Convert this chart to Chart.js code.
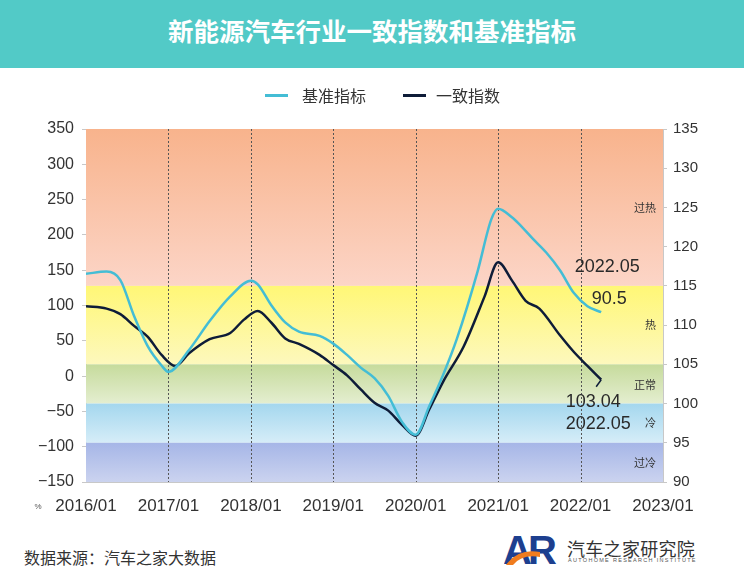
<!DOCTYPE html>
<html>
<head>
<meta charset="utf-8">
<script src="https://cdn.jsdelivr.net/npm/chart.js@4.4.0/dist/chart.umd.min.js"></script>
<style>
    body { margin: 0; width: 744px; height: 580px; background: #fff; position: relative; overflow: hidden; font-family: "Liberation Sans", "Noto Sans CJK SC", sans-serif; }
    .title_bar { position: absolute; left: 0; top: 0; width: 744px; height: 68px; background: #52cac7; color: #fff; font: bold 25.5px "Noto Sans CJK SC", sans-serif; text-align: center; line-height: 60px; }
    .chart_box { position: absolute; left: 0; top: 68px; width: 744px; height: 457px; }
    .source { position: absolute; left: 24px; top: 545px; font: 16px "Noto Sans CJK SC", sans-serif; color: #333; }
    .logo { position: absolute; left: 504px; top: 532px; }
    .logo_name { position: absolute; left: 567px; top: 535px; font: 18px "Noto Sans CJK SC", sans-serif; color: #333; letter-spacing: 0.3px; }
    .logo_sub { position: absolute; left: 568px; top: 557px; font: 5.5px "Liberation Sans", sans-serif; color: #555; letter-spacing: 1.3px; white-space: nowrap; }
</style>
</head>
<body>
<div class="title_bar">新能源汽车行业一致指数和基准指标</div>
<div class="chart_box"><canvas id="indexChart"></canvas></div>
<div class="source">数据来源：汽车之家大数据</div>
<svg class="logo" width="62" height="34" viewBox="0 0 62 34">
    <text x="-1" y="32" font-family="Liberation Sans" font-weight="bold" font-size="40" fill="#1d3f8f" letter-spacing="-4">AR</text>
    <path d="M2 33 Q14 16 36 20 L36 25 Q18 22 9 33 Z" fill="#f07c1e"/>
</svg>
<div class="logo_name">汽车之家研究院</div>
<div class="logo_sub">AUTOHOME RESEARCH INSTITUTE</div>

<script>
// month index, 0 = 2016/01
const benchMonths = [0, 3, 5, 7, 9, 11, 12, 15, 18, 21, 24, 25, 27, 29, 31, 34, 36, 38, 40, 42, 44, 46, 48, 50, 52, 54, 57, 59, 60, 62, 63, 65, 67, 69, 71, 73, 75];
const benchValues = [145, 148, 136, 85, 42, 15, 6, 37, 78, 113, 135, 130, 100, 76, 63, 57, 46, 30, 12, -3, -28, -65, -83, -42, 2, 53, 148, 222, 237, 225, 216, 195, 175, 150, 118, 99, 90.5];

const coinMonths = [0, 3, 5, 7, 9, 11, 13, 15, 18, 21, 23, 25, 27, 29, 31, 34, 36, 38, 40, 42, 44, 46, 48, 50, 52, 55, 58, 60, 62, 64, 66, 69, 71, 73, 75];
const coinValues = [112.4, 112.1, 111.4, 109.9, 108.5, 106.2, 104.8, 106.4, 108.2, 109.0, 110.7, 111.8, 110.3, 108.3, 107.6, 106.2, 104.9, 103.6, 101.8, 100.1, 99.1, 97.3, 95.9, 99.3, 102.8, 107.3, 113.6, 118.0, 115.7, 113.1, 112.1, 108.7, 106.6, 104.8, 103.04];

const seriesNames = ['基准指标', '一致指数'];
const seriesColors = ['#44bdd5', '#0e1c38'];

const yearTicks = [0, 12, 24, 36, 48, 60, 72, 84];
const yearLabels = ['2016/01', '2017/01', '2018/01', '2019/01', '2020/01', '2021/01', '2022/01', '2023/01'];

// zones on the right axis
const zoneEdges = [135, 115, 105, 100, 95, 90];
const zoneColors = [
    ['#f8b38c', '#fcd5c7'],
    ['#fff776', '#fdf8bd'],
    ['#c6db9c', '#e4eed0'],
    ['#a4d7ee', '#d6edf8'],
    ['#a6b6e7', '#cbd3ef'],
];
const zoneNames = ['过热', '热', '正常', '冷', '过冷'];
const zoneLabelValues = [125, 110, 102.4, 97.6, 92.4];

const endBench = { date: '2022.05', value: '90.5' };
const endCoin = { date: '2022.05', value: '103.04' };

const NUM_FONT = '"Liberation Sans", Arial, sans-serif';
const CJK_FONT = '"Noto Sans CJK SC", sans-serif';

function toPoints(months, values) {
    return months.map((m, i) => ({ x: m, y: values[i] }));
}

const zonePlugin = {
    id: 'zones',
    beforeDatasetsDraw(chart) {
        const { ctx, chartArea } = chart;
        const yR = chart.scales.yRight;
        ctx.save();
        for (let i = 0; i < zoneColors.length; i++) {
            const top = yR.getPixelForValue(zoneEdges[i]);
            const bottom = yR.getPixelForValue(zoneEdges[i + 1]);
            const grad = ctx.createLinearGradient(0, top, 0, bottom);
            grad.addColorStop(0, zoneColors[i][0]);
            grad.addColorStop(1, zoneColors[i][1]);
            ctx.fillStyle = grad;
            ctx.fillRect(chartArea.left, top, chartArea.right - chartArea.left, bottom - top);
        }
        // year separators
        ctx.strokeStyle = '#555';
        ctx.lineWidth = 1;
        ctx.setLineDash([2, 2]);
        const x = chart.scales.x;
        yearTicks.slice(1, -1).forEach(m => {
            const px = Math.round(x.getPixelForValue(m)) + 0.5;
            ctx.beginPath();
            ctx.moveTo(px, chartArea.top);
            ctx.lineTo(px, chartArea.bottom);
            ctx.stroke();
        });
        ctx.setLineDash([]);
        ctx.fillStyle = '#333';
        ctx.font = '11px ' + CJK_FONT;
        ctx.textAlign = 'right';
        ctx.textBaseline = 'middle';
        zoneNames.forEach((name, i) => {
            ctx.fillText(name, chartArea.right - 7, yR.getPixelForValue(zoneLabelValues[i]));
        });
        ctx.restore();
    },
    afterDatasetsDraw(chart) {
        const { ctx } = chart;
        const benchLast = chart.getDatasetMeta(0).data.at(-1);
        const coinLast = chart.getDatasetMeta(1).data.at(-1);
        ctx.save();
        ctx.fillStyle = '#2a2a2a';
        ctx.font = '18px ' + NUM_FONT;
        ctx.textAlign = 'center';
        ctx.textBaseline = 'middle';
        ctx.fillText(endBench.date, benchLast.x + 6, benchLast.y - 45);
        ctx.fillText(endBench.value, benchLast.x + 8, benchLast.y - 13);
        ctx.fillText(endCoin.value, coinLast.x - 8, coinLast.y + 22);
        ctx.fillText(endCoin.date, coinLast.x - 3, coinLast.y + 44);
        ctx.strokeStyle = seriesColors[1];
        ctx.lineWidth = 1.5;
        ctx.beginPath();
        ctx.moveTo(coinLast.x, coinLast.y);
        ctx.lineTo(coinLast.x - 5, coinLast.y + 7);
        ctx.stroke();
        ctx.restore();
    },
    afterDraw(chart) {
        const { ctx, chartArea } = chart;
        ctx.save();
        // legend
        ctx.font = '16px ' + CJK_FONT;
        ctx.textBaseline = 'middle';
        ctx.textAlign = 'left';
        const legendX = [265, 403];
        seriesNames.forEach((name, i) => {
            ctx.fillStyle = seriesColors[i];
            ctx.fillRect(legendX[i], 26, 23, 3);
            ctx.fillStyle = '#333';
            ctx.fillText(name, legendX[i] + 37 - (i ? 4 : 0), 28);
        });
        ctx.fillStyle = '#555';
        ctx.font = '8px ' + NUM_FONT;
        ctx.textAlign = 'center';
        ctx.fillText('%', 38, chartArea.bottom + 25);
        ctx.restore();
    }
};

const chartCanvas = document.querySelector('#indexChart');
const indexChart = new Chart(chartCanvas, {
    type: 'line',
    data: {
        datasets: [
            {
                label: seriesNames[0],
                data: toPoints(benchMonths, benchValues),
                borderColor: seriesColors[0],
                backgroundColor: seriesColors[0],
                borderWidth: 2.5,
                pointRadius: 0,
                cubicInterpolationMode: 'monotone',
                yAxisID: 'y'
            },
            {
                label: seriesNames[1],
                data: toPoints(coinMonths, coinValues),
                borderColor: seriesColors[1],
                backgroundColor: seriesColors[1],
                borderWidth: 2.5,
                pointRadius: 0,
                cubicInterpolationMode: 'monotone',
                yAxisID: 'yRight'
            }
        ]
    },
    options: {
        responsive: true,
        maintainAspectRatio: false,
        animation: false,
        layout: { padding: { top: 61, left: 0, right: 0, bottom: 0 } },
        plugins: {
            legend: { display: false },
            tooltip: { enabled: false }
        },
        scales: {
            x: {
                type: 'linear',
                min: 0,
                max: 84,
                afterBuildTicks: scale => { scale.ticks = yearTicks.map(v => ({ value: v })); },
                afterFit: scale => { scale.height = 43; },
                grid: { display: false },
                border: { color: '#c8c8c8' },
                ticks: {
                    color: '#333',
                    font: { family: NUM_FONT, size: 17 },
                    padding: 6,
                    maxRotation: 0,
                    autoSkip: false,
                    callback: v => yearLabels[yearTicks.indexOf(v)]
                }
            },
            y: {
                position: 'left',
                min: -150,
                max: 350,
                afterFit: scale => { scale.width = 86; },
                grid: { drawOnChartArea: false, tickLength: 4, color: '#c8c8c8' },
                border: { color: '#c8c8c8' },
                ticks: {
                    stepSize: 50,
                    color: '#333',
                    padding: 8,
                    font: { family: NUM_FONT, size: 16 },
                    callback: v => v < 0 ? '\u2212' + Math.abs(v) : String(v)
                }
            },
            yRight: {
                position: 'right',
                min: 90,
                max: 135,
                afterFit: scale => { scale.width = 81; },
                grid: { drawOnChartArea: false, tickLength: 4, color: '#c8c8c8' },
                border: { color: '#c8c8c8' },
                ticks: {
                    stepSize: 5,
                    color: '#333',
                    padding: 6,
                    font: { family: NUM_FONT, size: 15 }
                }
            }
        }
    },
    plugins: [zonePlugin]
});
</script>
</body>
</html>
